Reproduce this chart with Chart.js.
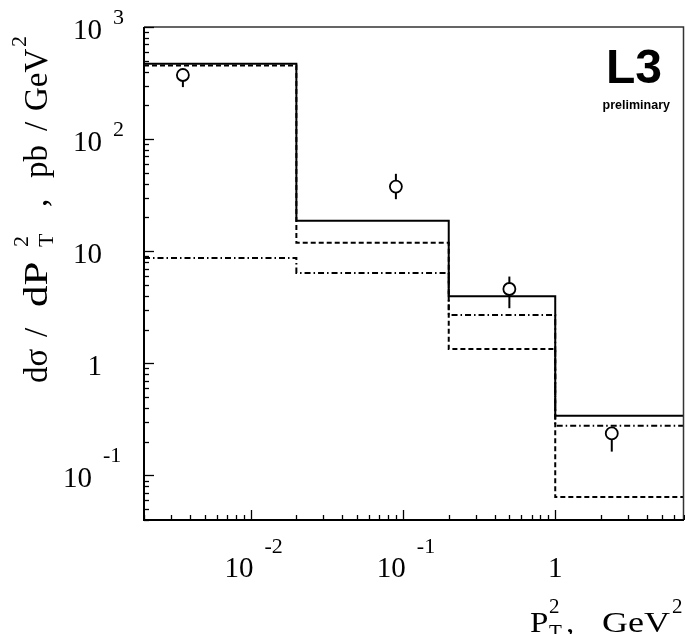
<!DOCTYPE html>
<html>
<head>
<meta charset="utf-8">
<script src="https://cdn.jsdelivr.net/npm/chart.js@4.4.1/dist/chart.umd.min.js"></script>
<style>
  body { margin: 0; background: #fff; }
  canvas { display: block; }
</style>
</head>
<body>
<canvas id="xsecChart" width="685" height="634"></canvas>
<script>
// bin edges in P_T^2 (GeV^2)
var binEdges = [0.002, 0.02, 0.2, 1, 7];
// model predictions, one value per bin (pb/GeV^2)
var solidVals = [470, 18.7, 3.96, 0.34];
var dashedVals = [454, 11.9, 1.34, 0.064];
var dashDotVals = [8.7, 6.4, 2.7, 0.277];
// measured points with error bars
var dataX = [0.0036, 0.09, 0.5, 2.35];
var dataY = [373, 37.7, 4.6, 0.237];
var dataLo = [291, 29.1, 3.1, 0.163];
var dataHi = [410, 49, 5.94, 0.27];
// tick labels
var xTickVals = [0.01, 0.1, 1];
var xTickBase = ['10', '10', '1'];
var xTickExp = ['-2', '-1', ''];
var yTickVals = [0.1, 1, 10, 100, 1000];
var yTickBase = ['10', '1', '10', '10', '10'];
var yTickExp = ['-1', '', '', '2', '3'];

const SERIF = '"Liberation Serif", "Times New Roman", serif';
const SANS = '"Liberation Sans", Arial, sans-serif';

// histogram as step line: one point per left edge, plus the right edge
function stepData(vals) {
    let pts = vals.map((v, i) => ({ x: binEdges[i], y: v }));
    pts.push({ x: binEdges[binEdges.length - 1], y: vals[vals.length - 1] });
    return pts;
}

// all ticks 1..9 x 10^n inside [min, max]
function logTicks(min, max) {
    let out = [];
    for (let d = Math.floor(Math.log10(min)) - 1; d <= Math.ceil(Math.log10(max)); d++) {
        for (let m = 1; m <= 9; m++) {
            let v = m * Math.pow(10, d);
            if (v >= min * 0.999 && v <= max * 1.001) out.push({ v: v, major: m == 1 });
        }
    }
    return out;
}

// text a bit wider than the font gives, like the original PAW lettering
function wideText(ctx, t, x, y, sx) {
    ctx.save();
    ctx.translate(x, y);
    ctx.scale(sx, 1);
    ctx.fillText(t, 0, 0);
    ctx.restore();
}

let errorBars = {
    id: 'errorBars',
    beforeDatasetsDraw(chart) {
        let ctx = chart.ctx, x = chart.scales.x, y = chart.scales.y;
        ctx.save();
        ctx.strokeStyle = '#000';
        ctx.lineWidth = 2;
        for (let i = 0; i < dataX.length; i++) {
            let px = x.getPixelForValue(dataX[i]);
            ctx.beginPath();
            ctx.moveTo(px, y.getPixelForValue(dataHi[i]));
            ctx.lineTo(px, y.getPixelForValue(dataLo[i]));
            ctx.stroke();
        }
        ctx.restore();
    }
};

let frameAndText = {
    id: 'frameAndText',
    afterDraw(chart) {
        let ctx = chart.ctx, a = chart.chartArea;
        let x = chart.scales.x, y = chart.scales.y;
        ctx.save();

        // frame: thin top/right, heavier axes
        ctx.strokeStyle = '#333';
        ctx.lineWidth = 1.5;
        ctx.beginPath();
        ctx.moveTo(a.left, a.top);
        ctx.lineTo(a.right - 0.5, a.top);
        ctx.lineTo(a.right - 0.5, a.bottom);
        ctx.stroke();
        ctx.strokeStyle = '#000';
        ctx.lineWidth = 2;
        ctx.beginPath();
        ctx.moveTo(a.left, a.top);
        ctx.lineTo(a.left, a.bottom);
        ctx.lineTo(a.right, a.bottom);
        ctx.stroke();

        // inward tick marks
        ctx.lineWidth = 1.3;
        logTicks(x.min, x.max).forEach(t => {
            let px = Math.round(x.getPixelForValue(t.v)) + 0.5;
            ctx.beginPath();
            ctx.moveTo(px, a.bottom);
            ctx.lineTo(px, a.bottom - (t.major ? 10 : 5));
            ctx.stroke();
        });
        logTicks(y.min, y.max).forEach(t => {
            let py = Math.round(y.getPixelForValue(t.v)) + 0.5;
            ctx.beginPath();
            ctx.moveTo(a.left, py);
            ctx.lineTo(a.left + (t.major ? 10 : 5), py);
            ctx.stroke();
        });

        ctx.fillStyle = '#000';
        ctx.textBaseline = 'alphabetic';

        // y tick labels
        yTickVals.forEach((v, i) => {
            let py = y.getPixelForValue(v);
            let neg = yTickExp[i].startsWith('-');
            let right = neg ? 92 : 102;
            ctx.font = '29px ' + SERIF;
            ctx.textAlign = 'right';
            ctx.fillText(yTickBase[i], right, py + 12);
            if (yTickExp[i]) {
                ctx.font = '22px ' + SERIF;
                ctx.textAlign = 'left';
                ctx.fillText(yTickExp[i], right + 11, py + 12 - (neg ? 25 : 15));
            }
        });

        // x tick labels
        xTickVals.forEach((v, i) => {
            let px = x.getPixelForValue(v);
            ctx.font = '29px ' + SERIF;
            if (xTickExp[i]) {
                ctx.textAlign = 'left';
                ctx.fillText(xTickBase[i], px - 26, 577);
                ctx.font = '22px ' + SERIF;
                ctx.fillText(xTickExp[i], px + 14, 553);
            } else {
                ctx.textAlign = 'center';
                ctx.fillText(xTickBase[i], px, 577);
            }
        });

        // x title: P_T^2 ,  GeV^2
        ctx.textAlign = 'left';
        ctx.font = '30px ' + SERIF;
        wideText(ctx, 'P', 530, 632, 1.1);
        wideText(ctx, ',', 566, 632, 1.1);
        wideText(ctx, 'GeV', 602, 632, 1.2);
        ctx.font = '21px ' + SERIF;
        ctx.fillText('2', 549, 613);
        ctx.fillText('T', 549, 639);
        ctx.fillText('2', 672, 613);

        // y title, rotated: dσ / dP_T^2 ,  pb / GeV^2
        ctx.save();
        ctx.translate(47, 383);
        ctx.rotate(-Math.PI / 2);
        ctx.font = '33px ' + SERIF;
        ctx.fillText('d\u03c3', 0, 0);
        ctx.fillText('/', 46, 0);
        wideText(ctx, 'dP', 76, 0, 1.3);
        ctx.fillText(',', 176, 0);
        ctx.fillText('pb', 205, 0);
        ctx.fillText('/', 252, 0);
        ctx.fillText('GeV', 272, 0);
        ctx.font = '22px ' + SERIF;
        ctx.fillText('2', 136, -19);
        ctx.fillText('T', 136, 6);
        ctx.fillText('2', 336, -21);
        ctx.restore();

        // experiment tag
        ctx.textAlign = 'right';
        ctx.font = 'bold 48px ' + SANS;
        ctx.fillText('L3', 662, 83);
        ctx.font = 'bold 12.5px ' + SANS;
        ctx.fillText('preliminary', 670, 109);

        ctx.restore();
    }
};

var xsecCtx = document.getElementById('xsecChart').getContext('2d');

var xsecChart = new Chart(xsecCtx, {
    type: 'line',
    data: {
        datasets: [{
            // data points, drawn on top
            data: dataX.map((v, i) => ({ x: v, y: dataY[i] })),
            showLine: false,
            pointRadius: 6,
            pointBorderWidth: 1.8,
            pointBorderColor: '#000',
            pointBackgroundColor: '#fff'
        }, {
            data: stepData(solidVals),
            stepped: 'before',
            borderColor: '#000',
            borderWidth: 2,
            pointRadius: 0,
            fill: false
        }, {
            data: stepData(dashedVals),
            stepped: 'before',
            borderColor: '#000',
            borderWidth: 2,
            borderDash: [5, 3],
            pointRadius: 0,
            fill: false
        }, {
            data: stepData(dashDotVals),
            stepped: 'before',
            borderColor: '#000',
            borderWidth: 2,
            borderDash: [6, 3, 1.5, 3],
            pointRadius: 0,
            fill: false
        }]
    },
    options: {
        responsive: false,
        animation: false,
        layout: { autoPadding: false, padding: { left: 144, right: 1, top: 27, bottom: 114 } },
        plugins: {
            legend: { display: false },
            tooltip: { enabled: false }
        },
        scales: {
            x: { type: 'logarithmic', min: 0.002, max: 7, display: false },
            y: { type: 'logarithmic', min: 0.04, max: 1000, display: false }
        }
    },
    plugins: [errorBars, frameAndText]
});
</script>
</body>
</html>
